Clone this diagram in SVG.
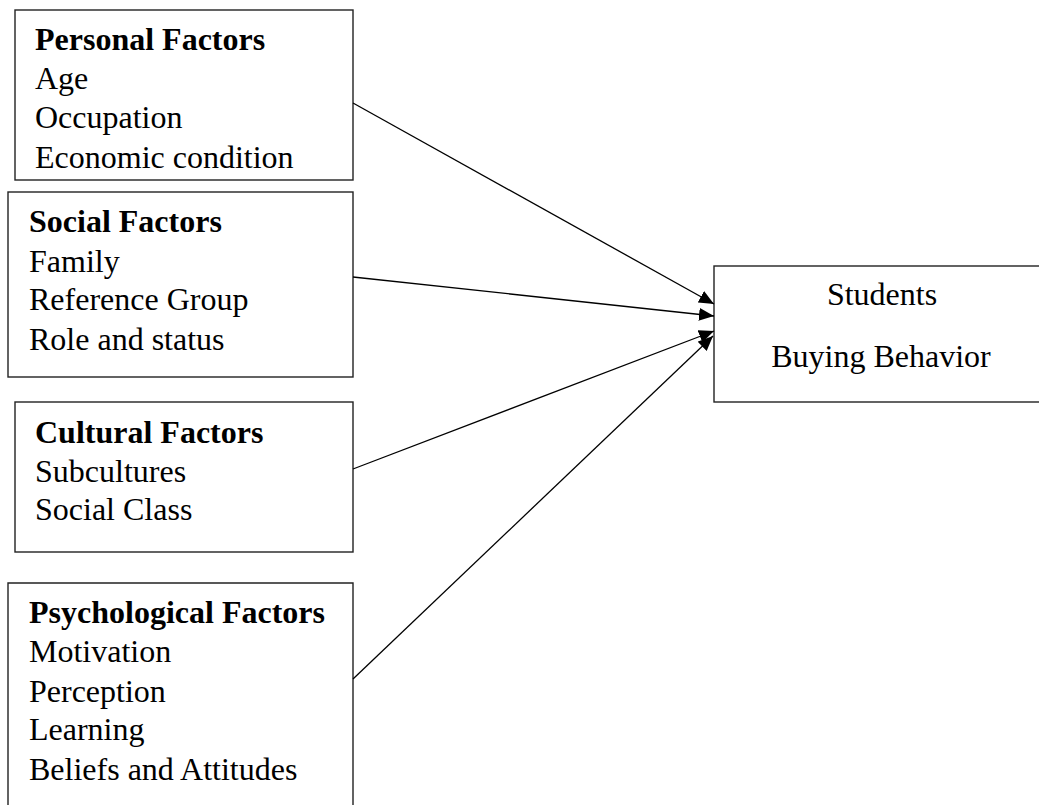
<svg xmlns="http://www.w3.org/2000/svg" width="1039" height="805" viewBox="0 0 1039 805">
  <style>
    .box { fill: #fff; stroke: #222; stroke-width: 1.4; }
    .edge { fill: none; stroke: #000; stroke-width: 1.3; }
    text { font-family: "Liberation Serif", "Times New Roman", serif; font-size: 32px; fill: #000; }
    .head { font-weight: bold; }
    .mid { text-anchor: middle; }
  </style>
  <defs>
    <marker id="arrow" markerWidth="16" markerHeight="13" refX="15" refY="6.5" orient="auto" markerUnits="userSpaceOnUse">
      <path d="M0,0 L15,6.5 L0,13 Z" fill="#000"/>
    </marker>
  </defs>
  <rect width="1039" height="805" fill="#fff"/>

  <g id="personal">
    <rect class="box" x="15" y="10" width="338" height="170"/>
    <text class="head" x="35" y="50">Personal Factors</text>
    <text x="35" y="89">Age</text>
    <text x="35" y="128">Occupation</text>
    <text x="35" y="168">Economic condition</text>
  </g>

  <g id="social">
    <rect class="box" x="8" y="192" width="345" height="185"/>
    <text class="head" x="29" y="232">Social Factors</text>
    <text x="29" y="272">Family</text>
    <text x="29" y="310">Reference Group</text>
    <text x="29" y="350">Role and status</text>
  </g>

  <g id="cultural">
    <rect class="box" x="15" y="402" width="338" height="150"/>
    <text class="head" x="35" y="443">Cultural Factors</text>
    <text x="35" y="482">Subcultures</text>
    <text x="35" y="520">Social Class</text>
  </g>

  <g id="psychological">
    <path class="box" d="M8,810 L8,583 L353,583 L353,810"/>
    <text class="head" x="29" y="623">Psychological Factors</text>
    <text x="29" y="662">Motivation</text>
    <text x="29" y="702">Perception</text>
    <text x="29" y="740">Learning</text>
    <text x="29" y="780">Beliefs and Attitudes</text>
  </g>

  <g id="behavior">
    <rect class="box" x="714" y="266" width="340" height="136"/>
    <text class="mid" x="882" y="305">Students</text>
    <text class="mid" x="881" y="367">Buying Behavior</text>
  </g>

  <g id="connectors">
    <line class="edge" x1="353" y1="103" x2="714" y2="304" marker-end="url(#arrow)"/>
    <line class="edge" x1="353" y1="277" x2="714" y2="316" marker-end="url(#arrow)"/>
    <line class="edge" x1="353" y1="469" x2="714" y2="331" marker-end="url(#arrow)"/>
    <line class="edge" x1="353" y1="679" x2="713" y2="336" marker-end="url(#arrow)"/>
  </g>
</svg>
